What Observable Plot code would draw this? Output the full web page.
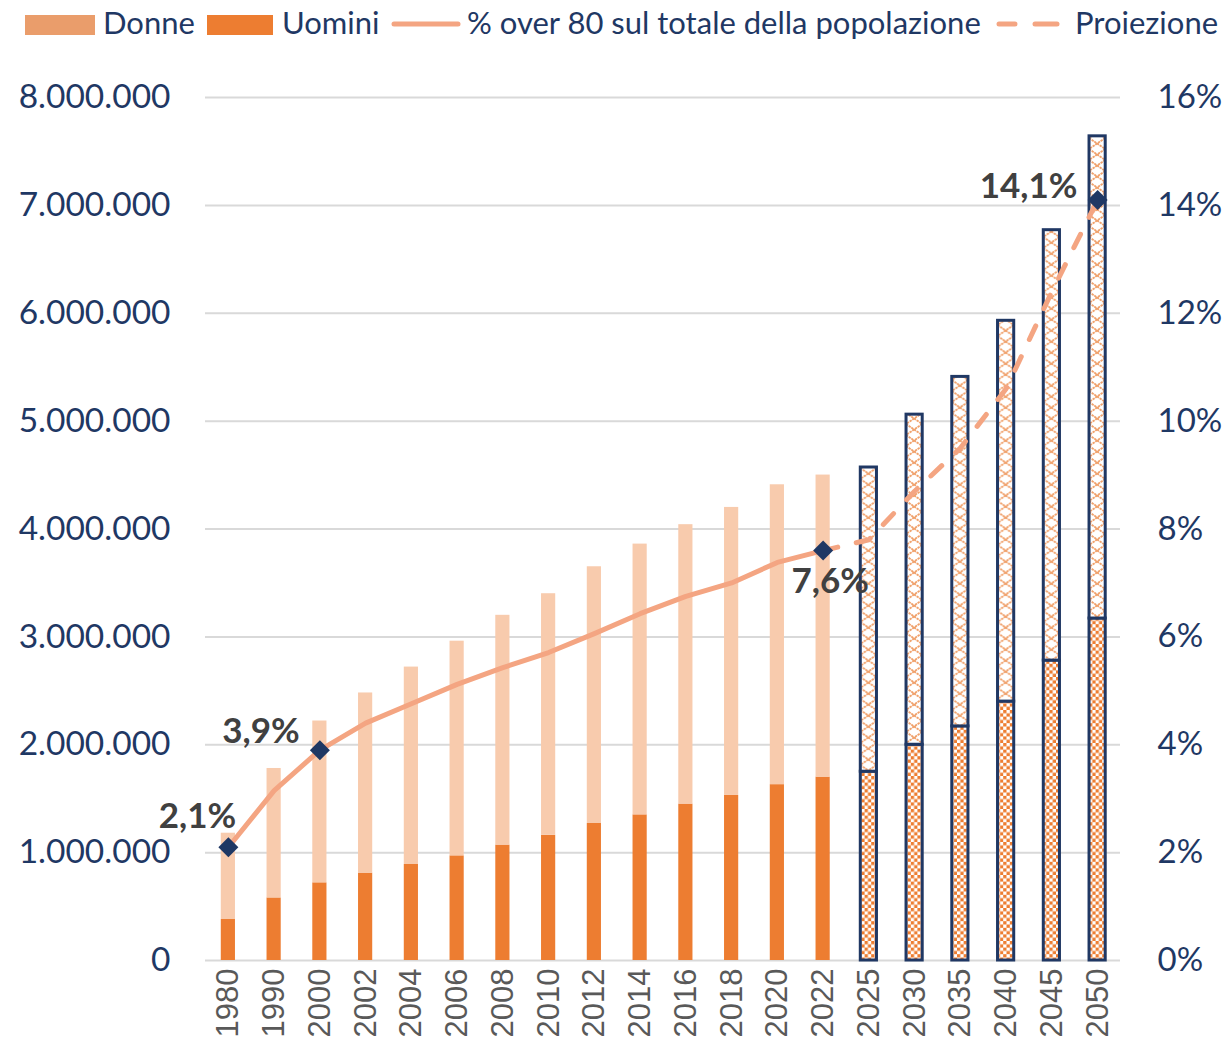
<!DOCTYPE html>
<html>
<head>
<meta charset="utf-8">
<script src="https://cdn.jsdelivr.net/npm/d3@7"></script>
<script src="https://cdn.jsdelivr.net/npm/@observablehq/plot@0.6"></script>
<style>
  html, body { margin: 0; padding: 0; background: #fff; }
  #legend { position: relative; width: 1229px; height: 50px; font-family: Lato, "Open Sans", sans-serif; font-size: 31px; color: #1F3864; }
  #legend .sw { position: absolute; }
  #legend .tx { position: absolute; top: 4px; line-height: 36px; white-space: nowrap; }
</style>
</head>
<body>
<svg width="0" height="0" style="position:absolute">
  <defs>
    <pattern id="checker" patternUnits="userSpaceOnUse" width="6.6" height="6.6">
      <rect width="6.6" height="6.6" fill="#ffffff"/>
      <rect x="0" y="0" width="3.3" height="3.3" fill="#ED7D31"/>
      <rect x="3.3" y="3.3" width="3.3" height="3.3" fill="#ED7D31"/>
    </pattern>
    <pattern id="trellis" patternUnits="userSpaceOnUse" x="0" y="0" width="45.75" height="11">
      <rect width="45.75" height="11" fill="#ffffff"/>
      <path id="trellisPath" d="M0,0 L14,11 M14,0 L0,11" stroke="#F0A06A" stroke-width="1.8" stroke-dasharray="2.4,0.8" fill="none"/>
    </pattern>
  </defs>
</svg>
<div id="legend">
  <div class="sw" style="left:25px;top:15px;width:70px;height:20px;background:#EA9D6B"></div>
  <div class="tx" style="left:103px">Donne</div>
  <div class="sw" style="left:207px;top:15px;width:66px;height:20px;background:#ED7D31"></div>
  <div class="tx" style="left:282px">Uomini</div>
  <svg class="sw" style="left:390px;top:16px" width="72" height="16"><line x1="4" y1="8" x2="68" y2="8" stroke="#F4A582" stroke-width="5" stroke-linecap="round"/></svg>
  <div class="tx" style="left:467px">% over 80 sul totale della popolazione</div>
  <svg class="sw" style="left:995px;top:16px" width="70" height="16"><line x1="4" y1="8" x2="20" y2="8" stroke="#F4A582" stroke-width="5" stroke-linecap="round"/><line x1="40" y1="8" x2="62" y2="8" stroke="#F4A582" stroke-width="5" stroke-linecap="round"/></svg>
  <div class="tx" style="left:1075px">Proiezione</div>
</div>
<div id="chart"></div>
<script>
const years = ["1980","1990","2000","2002","2004","2006","2008","2010","2012","2014","2016","2018","2020","2022","2025","2030","2035","2040","2045","2050"];
const uomini = [380000,580000,720000,810000,890000,970000,1070000,1160000,1270000,1350000,1450000,1530000,1630000,1700000,1750000,2000000,2170000,2400000,2780000,3170000];
const donne  = [800000,1200000,1500000,1670000,1830000,1990000,2130000,2240000,2380000,2510000,2590000,2670000,2780000,2800000,2820000,3060000,3240000,3530000,3990000,4470000];
const projectionFrom = "2025";
const pctYears = ["1980","1990","2000","2002","2004","2006","2008","2010","2012","2014","2016","2018","2020","2022"];
const pctValues = [2.1,3.15,3.9,4.4,4.76,5.12,5.43,5.71,6.06,6.43,6.75,7.0,7.38,7.6];
const projYears = ["2022","2025","2030","2035","2040","2045","2050"];
const projValues = [7.6,7.8,8.7,9.5,10.6,12.4,14.1];
const labelYears = ["1980","2000","2022","2050"];
const labelValues = [2.1,3.9,7.6,14.1];
const labelTexts = ["2,1%","3,9%","7,6%","14,1%"];
const leftTicks = [0,1000000,2000000,3000000,4000000,5000000,6000000,7000000,8000000];

const PCT = 500000; // 1% on right axis = 500.000 on left axis

const rows = years.map((y, i) => ({
  year: y, u: uomini[i], d: donne[i], t: uomini[i] + donne[i],
  proj: years.indexOf(y) >= years.indexOf(projectionFrom)
}));
const hist = rows.filter(r => !r.proj);
const proj = rows.filter(r => r.proj);
const line1 = pctYears.map((y, i) => ({year: y, v: pctValues[i] * PCT}));
const line2 = projYears.map((y, i) => ({year: y, v: projValues[i] * PCT}));
const labels = labelYears.map((y, i) => ({year: y, v: labelValues[i] * PCT, text: labelTexts[i]}));
const fmtLeft = d => d3.format(",")(d).replace(/,/g, ".");
const fmtRight = d => (d / PCT) + "%";
const labelOffsets = [[-31, -30], [-59, -18], [7, 31], [-69, -13]];

const plot = Plot.plot({
  width: 1229,
  height: 994,
  marginTop: 47,
  marginBottom: 84,
  marginLeft: 205,
  marginRight: 109,
  style: {fontFamily: "Lato, sans-serif", background: "#ffffff", overflow: "visible"},
  x: {domain: years, paddingInner: 0.69, paddingOuter: 0.345, round: false, axis: null},
  y: {domain: [0, 8000000], axis: null},
  marks: [
    Plot.gridY(leftTicks.filter(d => d > 0), {stroke: "#D9D9D9", strokeOpacity: 1, strokeWidth: 2}),
    Plot.ruleY([0], {stroke: "#D9D9D9", strokeWidth: 2}),
    Plot.axisY({anchor: "left", ticks: leftTicks, tickFormat: fmtLeft, tickSize: 0, tickPadding: 35, fontSize: 33.5, fill: "#1F3864", label: null}),
    Plot.axisY({anchor: "right", ticks: leftTicks, tickFormat: fmtRight, tickSize: 0, tickPadding: 37, fontSize: 33, fill: "#1F3864", label: null}),
    Plot.axisX({tickRotate: -90, tickSize: 0, tickPadding: 8, fontSize: 31, fill: "#595959", fontFamily: "Liberation Sans, Arial, sans-serif", label: null}),
    Plot.barY(hist, {x: "year", y1: 0, y2: "u", fill: "#ED7D31"}),
    Plot.barY(hist, {x: "year", y1: "u", y2: "t", fill: "#F8CBAD"}),
    Plot.barY(proj, {x: "year", y1: 0, y2: "u", fill: "url(#checker)", stroke: "#203864", strokeWidth: 3, insetLeft: -1, insetRight: -1}),
    Plot.barY(proj, {x: "year", y1: "u", y2: "t", fill: "url(#trellis)", stroke: "#203864", strokeWidth: 3, insetLeft: -1, insetRight: -1}),
    Plot.line(line1, {x: "year", y: "v", stroke: "#F4A582", strokeWidth: 5, strokeLinecap: "round", strokeLinejoin: "round"}),
    Plot.line(line2, {x: "year", y: "v", stroke: "#F4A582", strokeWidth: 5, strokeLinecap: "round", strokeDasharray: "15,19"}),
    Plot.dot(labels, {x: "year", y: "v", symbol: "diamond2", r: 9, fill: "#1F3864", stroke: "none"}),
    ...labels.map((l, i) => Plot.text([l], {x: "year", y: "v", text: "text", dx: labelOffsets[i][0], dy: labelOffsets[i][1], fontSize: 35, fontWeight: "bold", fill: "#404040", fontFamily: "Lato, sans-serif"}))
  ]
});
document.getElementById("chart").appendChild(plot);

// align the trellis pattern with the projection bars using the x scale
const xs = plot.scale("x");
const xScale = Plot.scale({x: xs});
const bw = xs.bandwidth;
const x0 = xScale.apply(projectionFrom);
const pat = document.getElementById("trellis");
pat.setAttribute("x", x0);
pat.setAttribute("width", xs.step);
pat.querySelector("rect").setAttribute("width", xs.step);
document.getElementById("trellisPath").setAttribute("d", `M-1,0 L${bw + 1},11 M${bw + 1},0 L-1,11`);
</script>
</body>
</html>
